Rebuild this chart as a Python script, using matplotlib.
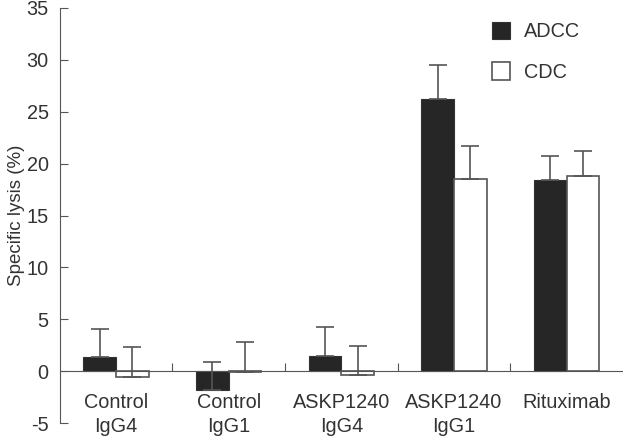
import matplotlib.pyplot as plt
import numpy as np

plt.rcParams['font.family'] = ['Liberation Sans', 'DejaVu Sans']
plt.rcParams['axes.unicode_minus'] = False

groups = ['Control\nIgG4', 'Control\nIgG1', 'ASKP1240\nIgG4', 'ASKP1240\nIgG1', 'Rituximab']
adcc = [1.35, -1.8, 1.5, 26.2, 18.4]
adcc_err = [2.7, 2.7, 2.8, 3.3, 2.3]
cdc = [-0.55, -0.05, -0.35, 18.5, 18.8]
cdc_err = [2.85, 2.85, 2.75, 3.2, 2.4]

fs = 14.3
txt = '#333333'
fig = plt.figure(figsize=(6.23, 4.44), dpi=100)
ax = fig.add_axes([0.096, 0.047, 0.904, 0.935])

x = np.arange(len(groups))
w = 0.29
edge = '#555555'
ax.bar(x - w / 2, adcc, w, color='#262626', edgecolor='#333333', linewidth=0.8,
       yerr=[np.zeros(len(adcc)), adcc_err], capsize=6.5,
       error_kw=dict(ecolor=edge, elinewidth=1.2, capthick=1.2), label='ADCC')
ax.bar(x + w / 2, cdc, w, color='white', edgecolor=edge, linewidth=1.2,
       yerr=[np.zeros(len(cdc)), cdc_err], capsize=6.5,
       error_kw=dict(ecolor=edge, elinewidth=1.2, capthick=1.2), label='CDC')

ax.set_xlim(-0.5, len(groups) - 0.5)
ax.set_ylim(-5, 35)
ax.set_yticks(range(-5, 36, 5))
ax.set_ylabel('Specific lysis (%)', fontsize=13.5, color=txt, labelpad=1)

for s in ['top', 'right']:
    ax.spines[s].set_visible(False)
ax.spines['bottom'].set_position(('data', 0))
ax.spines['bottom'].set_color(edge)
ax.spines['left'].set_color(edge)

# group boundary ticks on the zero line, labels below it
ax.set_xticks(x[:-1] + 0.5)
ax.set_xticklabels([])
ax.set_xticks(x, minor=True)
ax.set_xticklabels(groups, minor=True, fontsize=fs, color=txt, linespacing=1.3)
ax.tick_params(axis='x', which='major', direction='in', length=6, color=edge)
ax.tick_params(axis='x', which='minor', length=0, pad=16)
ax.tick_params(axis='y', direction='in', length=6, color=edge,
               labelsize=fs, labelcolor=txt, pad=8)

ax.legend(loc='upper right', bbox_to_anchor=(0.955, 1.01), frameon=False,
          fontsize=fs, handlelength=0.9, handleheight=1.0, labelspacing=1.05,
          handletextpad=0.7, labelcolor=txt)

fig.savefig('out.png', dpi=100)
